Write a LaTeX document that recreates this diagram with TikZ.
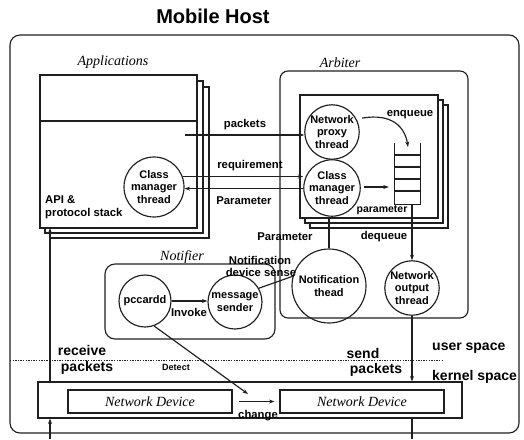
\documentclass[tikz,border=0pt]{standalone}
\usepackage{fontspec}
\setmainfont{Liberation Serif}
\setsansfont{Liberation Sans}
\usetikzlibrary{arrows.meta,calc}
\begin{document}
\begin{tikzpicture}[x=1pt,y=-1pt,
  ln/.style={line width=1.15pt, draw=black!88},
  arr/.style={ln, -{Stealth[length=5.5pt,width=4pt]}},
  thr/.style={circle, ln, draw, minimum size=#1, inner sep=0pt, align=center,
    font=\sffamily\bfseries\fontsize{11}{12.5}\selectfont},
  lab/.style={font=\sffamily\bfseries\fontsize{11.3}{13}\selectfont, inner sep=0pt},
  small/.style={font=\sffamily\bfseries\fontsize{9}{10}\selectfont, inner sep=0pt},
  biglab/.style={font=\sffamily\bfseries\fontsize{14}{15}\selectfont, inner sep=0pt},
  itl/.style={font=\itshape\fontsize{14}{15}\selectfont, inner sep=0pt},
  dev/.style={ln, draw, inner sep=0pt, minimum width=164pt, minimum height=23pt,
    font=\itshape\fontsize{14}{15}\selectfont}
]
\useasboundingbox (0,0) rectangle (524,439);

% title and outer box
\node[font=\sffamily\bfseries\fontsize{20}{22}\selectfont, inner sep=0pt] (title) at (213,16) {Mobile Host};
\draw[ln, rounded corners=10pt] (10,35) rectangle (519,433);

% Applications stack
\node[itl] (applab) at (113,62) {Applications};
\draw[ln, fill=white] (50,87) rectangle (209,238);
\draw[ln, fill=white] (45,81) rectangle (203,233);
\draw[ln, fill=white] (40,75) rectangle (197,228);
\coordinate (appfb) at (40,228);
\draw[ln] (40,121) -- (197,121);
\node[lab, anchor=west, align=left] (api) at (45,207) {API \&\\protocol stack};
\node[thr=60pt] (acm) at (154,187) {Class\\manager\\thread};

% Arbiter
\node[itl] (arblab) at (340,63) {Arbiter};
\draw[ln, rounded corners=8pt] (280,71) rectangle (468,318);
\draw[ln, fill=white] (310,105) rectangle (448,228);
\draw[ln, fill=white] (305,100) rectangle (443,223);
\draw[ln, fill=white] (300,95) rectangle (438,218);
\node[thr=54pt] (proxy) at (332,132) {Network\\proxy\\thread};
\node[thr=54pt] (bcm) at (332,188) {Class\\manager\\thread};

% queue
\node[minimum width=25pt, minimum height=61pt, inner sep=0pt] (queue) at (407.5,173.5) {};
\draw[ln] (queue.north west) -- (queue.south west) -- (queue.south east) -- (queue.north east);
\foreach \yy in {155,167,179,191} \draw[ln] (395,\yy) -- (420,\yy);
\coordinate (qtop) at (408,147);
\draw[arr] ($(proxy.30)+(6,0)$) .. controls (392,113) and (405,127) .. (qtop);
\node[lab] (enq) at (410,115) {enqueue};
\draw[arr] ($(bcm.east)+(3,-1)$) -- ($(queue.west |- bcm.east)+(-6,-1)$);
\node[lab, font=\sffamily\bfseries\fontsize{10.5}{11}\selectfont] (param2) at (382,210) {parameter};

% threads below arbiter stack
\node[thr=74pt] (nthr) at (329,286) {Notification\\thead};
\node[thr=54pt] (nout) at (412,288) {Network\\output\\thread};
\draw[ln] (nthr.north) -- (nthr.north |- bcm.south);
\draw[arr] (nout.north |- queue.south) -- (nout.north);
\node[lab] (param3) at (285,237) {Parameter};
\node[lab] (deq) at (384,237) {dequeue};

% Applications <-> Arbiter
\coordinate (pkS) at (185,135);
\draw[arr] (pkS) -- (pkS -| proxy.west);
\node[lab] (pkl) at (245,125) {packets};
\draw[arr] (acm.20) -- (acm.20 -| bcm.west);
\node[lab] (req) at (250,166) {requirement};
\draw[arr] (acm.-3 -| bcm.west) -- (acm.-3);
\node[lab] (param1) at (244,201) {Parameter};

% Notifier
\node[itl] (notlab) at (182,257) {Notifier};
\draw[ln, rounded corners=10pt] (105,264) rectangle (275,339);
\node[thr=52pt] (pcc) at (145,301) {pccardd};
\node[thr=54pt] (msg) at (235,302) {message\\sender};
\draw[arr] (pcc.east) -- (pcc.east -| msg.west);
\node[lab] (inv) at (189,312) {Invoke};
\draw[ln] (msg.30) -- (nthr.165);
\node[lab] (nds1) at (260,260) {Notification};
\node[lab] (nds2) at (261,272) {device sense};

% user / kernel boundary
\coordinate (dl) at (10,360);
\coordinate (dr) at (443,360);
\draw[ln, line width=0.8pt, dash pattern=on 1.3pt off 1.3pt] (dl) -- (dr);
\node[biglab, anchor=west] (us) at (432,348) {user space};
\node[biglab, anchor=west] (ks) at (432,377) {kernel space};
\node[biglab] (rc1) at (82,350) {receive};
\node[biglab] (rc2) at (87,368) {packets};
\node[biglab] (sd1) at (363,353) {send};
\node[biglab] (sd2) at (376,370) {packets};
\node[small] (det) at (176,367) {Detect};

% kernel devices
\node[ln, draw, minimum width=424pt, minimum height=36pt, inner sep=0pt] (kbox) at (250,400) {};
\node[dev] (devL) at (150,401.5) {Network Device};
\node[dev] (devR) at (362,401.5) {Network Device};
\draw[arr] ($(devL.east)+(6,0)$) -- ($(devR.west)+(-5,0)$);
\node[lab] (chg) at (258,416) {change};
\coordinate (dtip) at (248,394);
\draw[arr] (pcc.-70) -- (dtip);

% packet paths
\coordinate (rb) at (50,439);
\draw[arr] (rb) -- (rb |- kbox.south);
\draw[arr] (rb |- kbox.north) -- (rb |- appfb);
\coordinate (sb) at (412,439);
\draw[arr] (nout.south) -- (nout.south |- kbox.north);
\draw[ln] (nout.south |- kbox.south) -- (sb);
\end{tikzpicture}
\end{document}
